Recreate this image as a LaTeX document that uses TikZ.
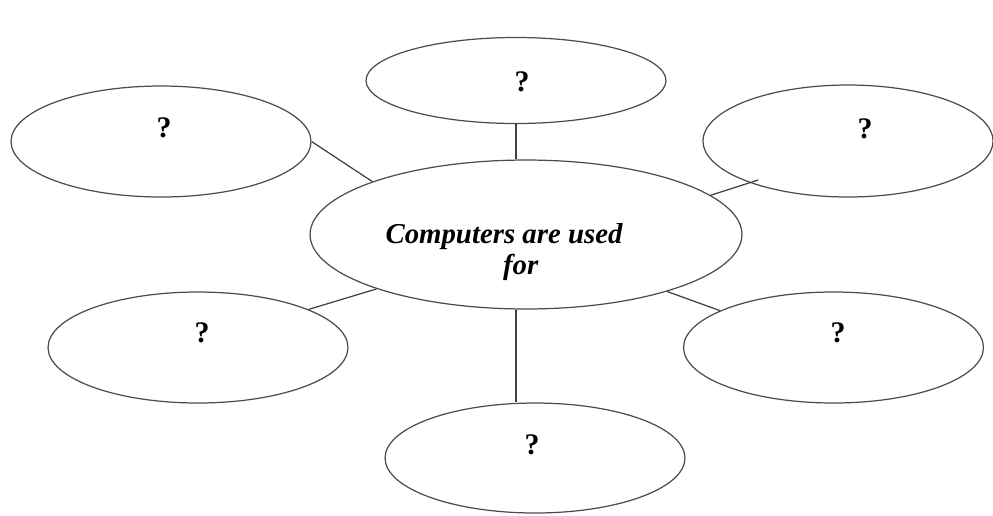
\documentclass[tikz,border=0pt]{standalone}
\usepackage{fontspec}
\setmainfont{Liberation Serif}
\usetikzlibrary{shapes.geometric}
\tikzset{
  hub/.style={
    ellipse,
    draw=black!70, line width=0.7pt,
    inner sep=0pt,
    minimum width=8.64cm,
    minimum height=2.98cm},
  bubble/.style={
    ellipse,
    draw=black!70, line width=0.7pt,
    inner sep=0pt,
    minimum width=6cm,
    minimum height=2.22cm},
  hubtext/.style={
    font=\fontsize{16.4}{17.6}\selectfont\bfseries\itshape,
    align=left, inner sep=0pt},
  qmark/.style={font=\fontsize{17}{20}\selectfont\bfseries, inner sep=0pt},
  link/.style={draw, black!75, line width=0.7pt},
}

\begin{document}
\begin{tikzpicture}
  [x=0.02cm, y=-0.02cm]
  \useasboundingbox (0,0) rectangle (993,515);
     \node[hub] (Uses) at (526,234.5) {};
     \node[hubtext] (UsesText) at (504,252) {Computers are used\\\hspace*{2.35cm}for};
     \node[bubble, minimum height=1.72cm] (Top) at (516,80.5) {};
     \node[bubble] (TopLeft) at (161,141.5) {};
     \node[bubble, minimum width=5.8cm, minimum height=2.24cm] (TopRight) at (848,141) {};
     \node[bubble] (BottomLeft) at (198,347.5) {};
     \node[bubble] (BottomRight) at (833.5,347.5) {};
     \node[bubble, minimum height=2.2cm] (Bottom) at (535,458) {};
  % the question marks sit a bit above the middle of each bubble
     \node[qmark] (qTop) at (522,82) {?};
     \node[qmark] (qTopLeft) at (164,128) {?};
     \node[qmark] (qTopRight) at (865,129) {?};
     \node[qmark] (qBottomLeft) at (202,333) {?};
     \node[qmark] (qBottomRight) at (838,333) {?};
     \node[qmark] (qBottom) at (532,445) {?};
  % spokes
     \path[link] (Top.south) -- (Top.south |- Uses.north);
     \path[link] (Top.south |- Uses.south) -- (Top.south |- Bottom.north);
     \path[link] (TopLeft.east) -- (Uses.161);
     \path[link, shorten <=-0.18cm] (TopRight.203) -- (Uses.12.5);
     \path[link] (BottomLeft.19) -- (Uses.200);
     \path[link] (BottomRight.162) -- (Uses.338);
\end{tikzpicture}
\end{document}
